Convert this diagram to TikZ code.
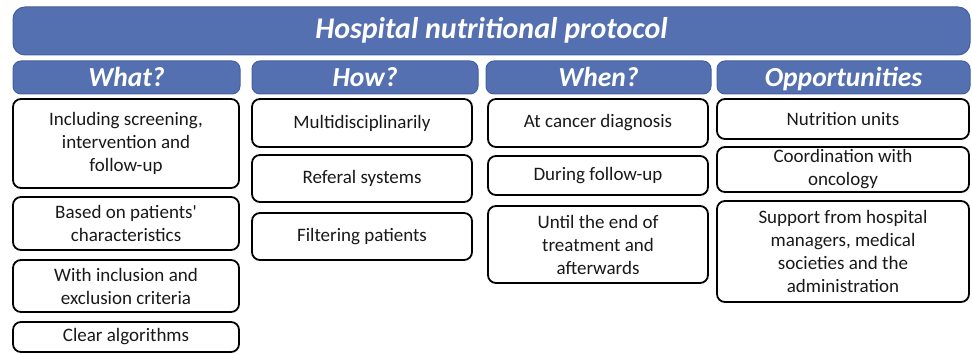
\documentclass[tikz,border=0pt]{standalone}
\usepackage{fontspec}
\setmainfont{Carlito}
\definecolor{hblue}{RGB}{84,112,176}
\definecolor{hedge}{RGB}{68,96,160}
\begin{document}
\begin{tikzpicture}[x=1pt,y=-1pt,
  head/.style={fill=hblue,draw=hedge,line width=1pt,rounded corners=8pt,inner sep=0pt,
    text height=22pt,text depth=3pt,
    text=white,font=\fontsize{27.5}{30}\selectfont\bfseries\itshape},
  tbox/.style={draw=black,line width=1.8pt,rounded corners=8pt,fill=white,inner sep=0pt,
    align=center,font=\fontsize{19}{23}\selectfont,text=black!90}]
\useasboundingbox (0,0) rectangle (972,355);
\node[head,minimum width=957pt,minimum height=48pt,rounded corners=12pt,text height=22pt,text depth=6pt,font=\fontsize{30}{34}\selectfont\bfseries\itshape] (title) at (491.5,31) {Hospital nutritional protocol};
\node[head,minimum width=227pt,minimum height=33pt] (what) at (126.5,77.5) {What?};
\node[head,minimum width=226pt,minimum height=33pt] (how) at (365,77.5) {How?};
\node[head,minimum width=225pt,minimum height=33pt] (when) at (598.5,77.5) {When?};
\node[head,minimum width=253pt,minimum height=33pt] (opp) at (843.5,77.5) {Opportunities};
% What
\node[tbox,minimum width=226pt,minimum height=89pt] (w1) at (126,143.5) {Including screening,\\intervention and\\follow-up};
\node[tbox,minimum width=226pt,minimum height=53pt] (w2) at (126,223.5) {Based on patients\textquotesingle\\characteristics};
\node[tbox,minimum width=226pt,minimum height=52pt] (w3) at (126,286) {With inclusion and\\exclusion criteria};
\node[tbox,minimum width=226pt,minimum height=30pt] (w4) at (126,337) {Clear algorithms};
% How
\node[tbox,minimum width=220pt,minimum height=48pt] (h1) at (362,123) {Multidisciplinarily};
\node[tbox,minimum width=220pt,minimum height=47pt] (h2) at (362,178.5) {Referal systems};
\node[tbox,minimum width=220pt,minimum height=47pt] (h3) at (362,236.5) {Filtering patients};
% When
\node[tbox,minimum width=220pt,minimum height=48pt] (n1) at (598,123) {At cancer diagnosis};
\node[tbox,minimum width=220pt,minimum height=39pt] (n2) at (598,175.5) {During follow-up};
\node[tbox,minimum width=220pt,minimum height=77pt] (n3) at (598,244.5) {Until the end of\\treatment and\\afterwards};
% Opportunities
\node[tbox,minimum width=252pt,minimum height=40pt] (o1) at (843,119) {Nutrition units};
\node[tbox,minimum width=252pt,minimum height=45pt] (o2) at (843,169.5) {Coordination with\\oncology};
\node[tbox,minimum width=252pt,minimum height=101pt] (o3) at (843,251.5) {Support from hospital\\managers, medical\\societies and the\\administration};
\end{tikzpicture}
\end{document}
